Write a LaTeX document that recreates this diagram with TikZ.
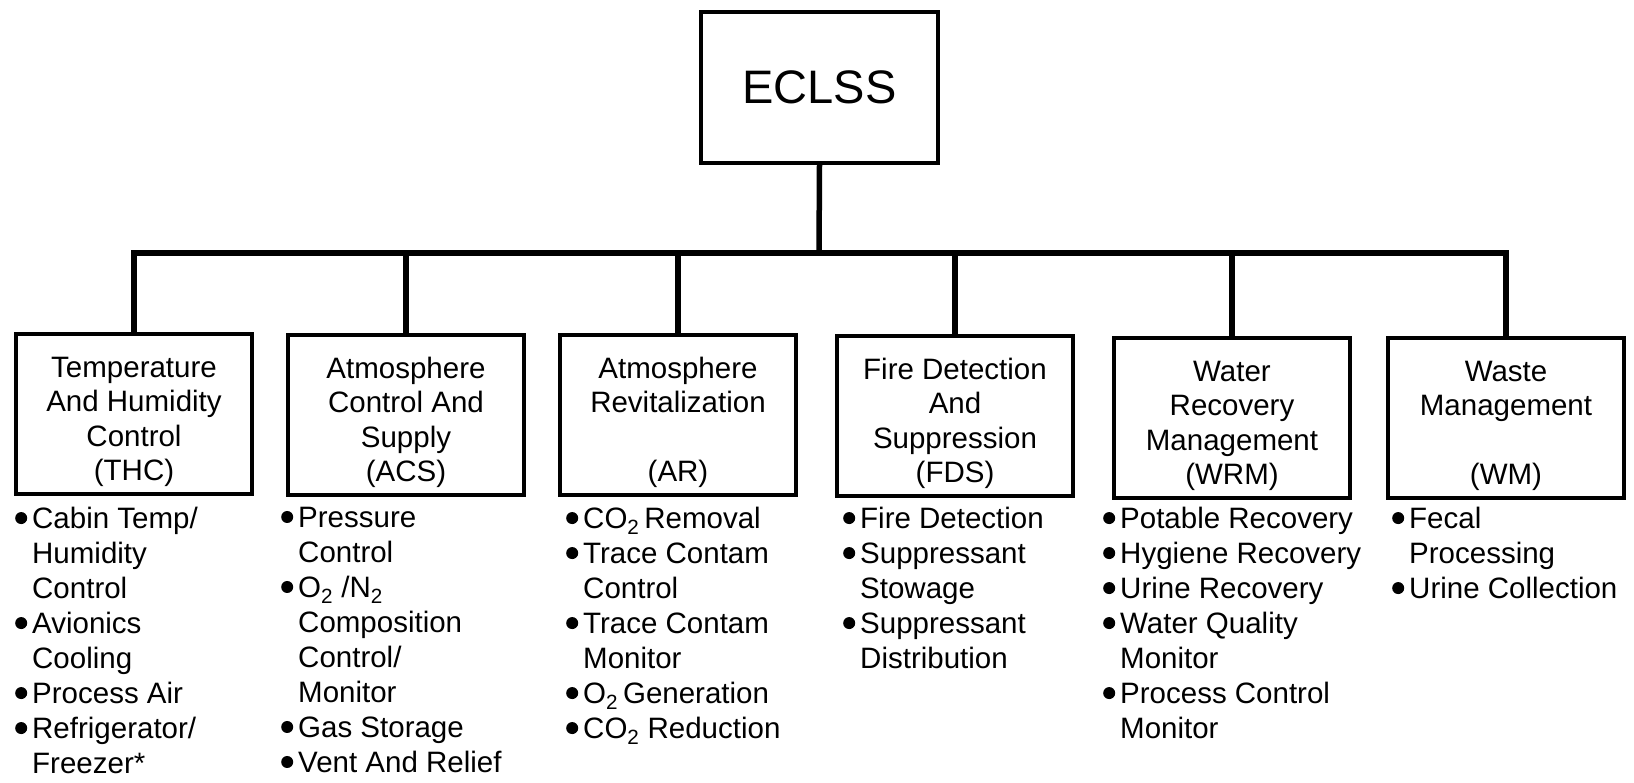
\documentclass[tikz,border=0pt]{standalone}
\usepackage{fontspec}
\setmainfont{Liberation Sans}
\newcommand{\bul}{\makebox[0pt][r]{\tikz[baseline=0pt]\fill (0pt,10.5pt) circle (6pt);\hspace{5pt}}}
\newcommand{\hi}{\rule{0pt}{36pt}}
\begin{document}
\begin{tikzpicture}[x=1pt,y=-1pt,
    box/.style={draw,line width=4pt,minimum width=236pt,minimum height=160pt,inner sep=0pt,align=center,font=\fontsize{29.5}{34.5}\selectfont},
    items/.style={anchor=north west,inner sep=0pt,align=left,font=\fontsize{29.5}{35}\selectfont},
    conn/.style={line width=5.5pt}]
  \useasboundingbox (0,0) rectangle (1634,783);
  \node[draw,line width=4pt,minimum width=237pt,minimum height=151pt,font=\fontsize{47}{50}\selectfont] (eclss) at (819.5,87.5) {ECLSS};
  \node[box] (thc) at (134,414) {\hi Temperature\\And Humidity\\Control\\(THC)};
  \node[box] (acs) at (406,415) {\hi Atmosphere\\Control And\\Supply\\(ACS)};
  \node[box] (ar) at (678,415) {\hi Atmosphere\\Revitalization\\\mbox{}\\(AR)};
  \node[box] (fds) at (955,416) {\hi Fire Detection\\And\\Suppression\\(FDS)};
  \node[box] (wrm) at (1232,418) {\hi Water\\Recovery\\Management\\(WRM)};
  \node[box] (wm) at (1506,418) {\hi Waste\\Management\\\mbox{}\\(WM)};
  \coordinate (bus) at (819,253);
  \draw[conn] (eclss.south) -- (bus);
  \foreach \b in {thc,acs,ar,fds,wrm,wm}
    \draw[conn] (\b.north) |- (bus);
  \node[items] (thcl) at (32,507) {\bul Cabin Temp/\\Humidity\\Control\\\bul Avionics\\Cooling\\\bul Process Air\\\bul Refrigerator/\\Freezer*};
  \node[items] (acsl) at (298,507) {\bul Pressure\\Control\\\bul O\textsubscript{2} /N\textsubscript{2}\\Composition\\Control/\\Monitor\\\bul Gas Storage\\\bul Vent And Relief};
  \node[items] (arl) at (583,507) {\bul CO\textsubscript{2}\,Removal\\\bul Trace Contam\\Control\\\bul Trace Contam\\Monitor\\\bul O\textsubscript{2}\,Generation\\\bul CO\textsubscript{2} Reduction};
  \node[items] (fdsl) at (860,507) {\bul Fire Detection\\\bul Suppressant\\Stowage\\\bul Suppressant\\Distribution};
  \node[items] (wrml) at (1120,507) {\bul Potable Recovery\\\bul Hygiene Recovery\\\bul Urine Recovery\\\bul Water Quality\\Monitor\\\bul Process Control\\Monitor};
  \node[items] (wml) at (1409,507) {\bul Fecal\\Processing\\\bul Urine Collection};
\end{tikzpicture}
\end{document}
